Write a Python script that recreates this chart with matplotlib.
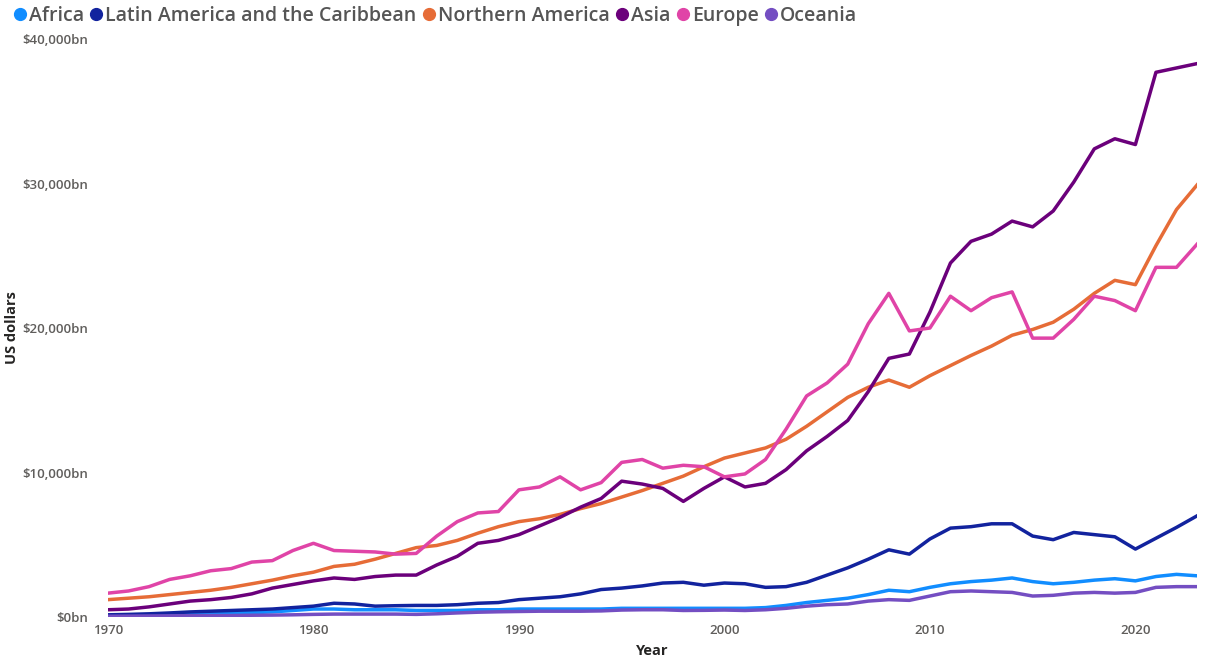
import matplotlib

matplotlib.use("Agg")
import matplotlib.pyplot as plt
from matplotlib.lines import Line2D
from matplotlib.ticker import FuncFormatter
import numpy as np

plt.rcParams["font.family"] = ["Open Sans", "DejaVu Sans"]

years = list(range(1970, 2024))

# GDP, billions of US dollars
africa = [100, 120, 150, 180, 200, 250, 280, 300, 350, 450,
          550, 550, 500, 500, 500, 450, 450, 450, 500, 500,
          550, 550, 550, 550, 550, 600, 600, 600, 600, 600,
          600, 600, 650, 800, 1000, 1150, 1300, 1550, 1850, 1750,
          2050, 2300, 2450, 2550, 2700, 2450, 2300, 2400, 2550, 2650,
          2500, 2800, 2950, 2850]
latin_america = [150, 180, 220, 280, 350, 400, 450, 500, 550, 650,
                 750, 950, 900, 750, 780, 800, 800, 850, 950, 1000,
                 1200, 1300, 1400, 1600, 1900, 2000, 2150, 2350, 2400, 2200,
                 2350, 2300, 2050, 2100, 2400, 2900, 3400, 4000, 4650, 4350,
                 5400, 6150, 6250, 6450, 6450, 5600, 5350, 5850, 5700, 5550,
                 4700, 5450, 6200, 7000]
northern_america = [1200, 1300, 1400, 1550, 1700, 1850, 2050, 2300, 2550, 2850,
                    3100, 3500, 3650, 4000, 4400, 4800, 4950, 5300, 5800, 6250,
                    6600, 6800, 7100, 7500, 7850, 8300, 8750, 9250, 9750, 10400,
                    11000, 11350, 11700, 12300, 13200, 14200, 15200, 15900, 16400, 15900,
                    16700, 17400, 18100, 18750, 19500, 19900, 20400, 21300, 22400, 23300,
                    23000, 25700, 28200, 29900]
asia = [500, 550, 700, 900, 1100, 1200, 1350, 1600, 2000, 2250,
        2500, 2700, 2600, 2800, 2900, 2900, 3600, 4200, 5100, 5300,
        5700, 6300, 6900, 7600, 8200, 9400, 9200, 8900, 8000, 8900,
        9700, 9000, 9250, 10200, 11500, 12500, 13600, 15600, 17900, 18200,
        21100, 24500, 26000, 26500, 27400, 27000, 28100, 30100, 32400, 33100,
        32700, 37700, 38000, 38300]
europe = [1650, 1800, 2100, 2600, 2850, 3200, 3350, 3800, 3900, 4600,
          5100, 4600, 4550, 4500, 4350, 4400, 5600, 6600, 7200, 7300,
          8800, 9000, 9700, 8800, 9300, 10700, 10900, 10300, 10500, 10400,
          9700, 9900, 10900, 13000, 15300, 16200, 17500, 20300, 22400, 19800,
          20000, 22200, 21200, 22100, 22500, 19300, 19300, 20600, 22200, 21900,
          21200, 24200, 24200, 25800]
oceania = [50, 60, 70, 80, 90, 100, 100, 120, 130, 150,
           180, 200, 200, 200, 200, 180, 220, 280, 330, 360,
           380, 400, 400, 400, 420, 480, 500, 500, 450, 460,
           480, 450, 500, 600, 750, 850, 900, 1100, 1200, 1150,
           1450, 1750, 1800, 1750, 1700, 1450, 1500, 1650, 1700, 1650,
           1700, 2050, 2100, 2100]

series_names = ["Africa", "Latin America and the Caribbean", "Northern America",
                "Asia", "Europe", "Oceania"]
series_values = [africa, latin_america, northern_america, asia, europe, oceania]
colors = ["#118DFF", "#12239E", "#E66C37", "#6B007B", "#E044A7", "#744EC2"]

fig = plt.figure(figsize=(12.05, 6.62), dpi=100)
ax = fig.add_axes([0.0896, 0.068, 0.9038, 0.873])

for name, values, color in zip(series_names, series_values, colors):
    ax.plot(years, np.asarray(values), color=color, linewidth=2.5, label=name)

ax.set_xlim(1970, 2023)
ax.set_ylim(0, 40000)
ax.set_xticks([1970, 1980, 1990, 2000, 2010, 2020])
ax.set_yticks([0, 10000, 20000, 30000, 40000])
ax.yaxis.set_major_formatter(FuncFormatter(lambda v, _: f"${v:,.0f}bn"))
for side in ["top", "right", "left", "bottom"]:
    ax.spines[side].set_visible(False)
ax.tick_params(length=0, labelsize=9.5, labelcolor="#605E5C", pad=5)
ax.tick_params(axis="y", pad=14)
for label in ax.get_xticklabels() + ax.get_yticklabels():
    label.set_fontweight("semibold")

ax.set_xlabel("Year", fontsize=10.5, fontweight="bold", color="#252423", labelpad=5)
ax.set_ylabel("US dollars", fontsize=10.5, fontweight="bold", color="#252423")
ax.yaxis.set_label_coords(-0.082, 0.5)

handles = [Line2D([], [], marker="o", linestyle="none", markersize=8.5, color=c) for c in colors]
fig.legend(handles, series_names, loc="upper left", bbox_to_anchor=(-0.002, 1.018), ncol=6,
           frameon=False, handlelength=0.5, handletextpad=0.2, columnspacing=0.4,
           prop={"size": 14, "weight": "semibold"}, labelcolor="#555555")

fig.savefig("out.png", dpi=100)
